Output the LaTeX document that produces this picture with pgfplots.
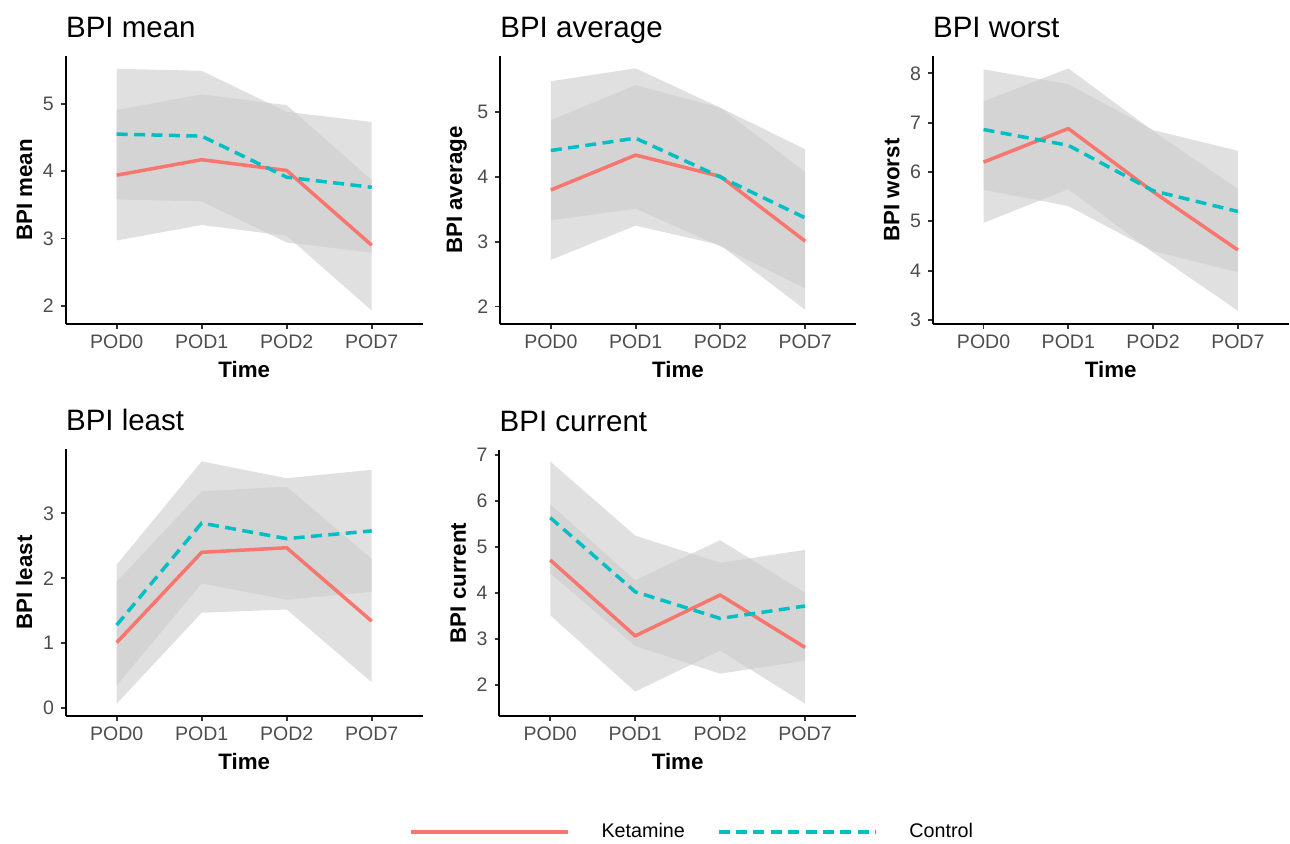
\documentclass[border=0pt]{standalone}
\usepackage{fontspec}
\setmainfont{Liberation Sans}
\usepackage{pgfplots}
\usepackage{pgfplotstable}
\pgfplotsset{compat=1.18}

\definecolor{keta}{HTML}{F8766D}
\definecolor{ctrl}{HTML}{00BFC4}
\definecolor{tickgray}{HTML}{4D4D4D}
\definecolor{band}{gray}{0.8}

% t = 1..4 stands for POD0, POD1, POD2, POD7
% kb/cb: band outline (upper 1..4, then lower 4..1); km/cm: group means
\pgfplotstableread{
t kb   cb   km   cm
1 4.91 5.52 3.94 4.55
2 5.14 5.49 4.17 4.52
3 4.98 4.88 4.01 3.91
4 3.87 4.73 2.90 3.76
4 1.93 2.79 nan  nan
3 3.04 2.94 nan  nan
2 3.20 3.55 nan  nan
1 2.97 3.58 nan  nan
}\bpimean
\pgfplotstableread{
t kb   cb   km   cm
1 4.88 5.48 3.80 4.41
2 5.42 5.68 4.34 4.60
3 5.07 5.07 4.01 4.00
4 4.08 4.43 3.01 3.37
4 1.95 2.28 nan  nan
3 2.95 2.93 nan  nan
2 3.25 3.51 nan  nan
1 2.72 3.33 nan  nan
}\bpiaverage
\pgfplotstableread{
t kb   cb   km   cm
1 7.43 8.08 6.20 6.86
2 8.10 7.78 6.88 6.54
3 6.83 6.85 5.60 5.62
4 5.66 6.43 4.42 5.20
4 3.19 3.97 nan  nan
3 4.37 4.40 nan  nan
2 5.65 5.31 nan  nan
1 4.97 5.64 nan  nan
}\bpiworst
\pgfplotstableread{
t kb   cb   km   cm
1 1.95 2.21 1.01 1.28
2 3.34 3.80 2.40 2.85
3 3.41 3.54 2.47 2.61
4 2.30 3.67 1.34 2.73
4 0.40 1.79 nan  nan
3 1.52 1.67 nan  nan
2 1.47 1.92 nan  nan
1 0.07 0.35 nan  nan
}\bpileast
\pgfplotstableread{
t kb   cb   km   cm
1 5.93 6.86 4.72 5.64
2 4.28 5.25 3.07 4.03
3 5.15 4.66 3.96 3.45
4 4.01 4.94 2.82 3.72
4 1.60 2.53 nan  nan
3 2.75 2.25 nan  nan
2 1.86 2.85 nan  nan
1 3.52 4.43 nan  nan
}\bpicurrent

\pgfplotsset{
  bpipanel/.style={
    scale only axis,
    axis lines=left,
    axis line style={-, line width=1bp, black},
    tick align=outside,
    major tick length=2.4bp,
    major tick style={line width=0.9bp, black!80},
    xmin=0.4, xmax=4.6,
    xtick={1,2,3,4},
    xticklabels={POD0,POD1,POD2,POD7},
    tick label style={font=\fontsize{9.8}{11}\selectfont, text=tickgray},
    /pgf/number format/assume math mode=true,
    xticklabel style={anchor=base, yshift=-10bp},
    xlabel={Time},
    xlabel style={at={(axis description cs:0.5,-0.2)}, anchor=base, inner sep=0pt},
    ylabel style={at={(axis description cs:-0.092,0.5)}, anchor=south, inner sep=0pt},
    label style={font=\fontsize{11.2}{13}\selectfont\bfseries},
    title style={at={(axis description cs:0,1)}, anchor=base west, inner sep=0pt,
      yshift=3.3bp, font=\fontsize{14.8}{17}\selectfont},
  },
  ribbon/.style={fill=band, fill opacity=0.6, draw=none, forget plot},
  kline/.style={keta, line width=1.75bp, line join=round, no markers},
  cline/.style={ctrl, line width=1.75bp, dash pattern=on 5.5bp off 3.2bp, no markers},
}

\newcommand{\bpiseries}[1]{%
  \addplot[ribbon] table[x=t, y=kb] {#1} -- cycle;
  \addplot[ribbon] table[x=t, y=cb] {#1} -- cycle;
  \addplot[kline] table[x=t, y=km] {#1};
  \addplot[cline] table[x=t, y=cm] {#1};
}

\begin{document}
\begin{tikzpicture}
\path[use as bounding box] (0,0) rectangle (645bp,-422bp);

\begin{axis}[bpipanel, at={(32.85bp,-162bp)}, anchor=south west,
  width=178.5bp, height=134bp, ymin=1.73, ymax=5.71, ytick={2,3,4,5},
  title={BPI mean}, ylabel={BPI mean}]
\bpiseries{\bpimean}
\end{axis}

\begin{axis}[bpipanel, at={(250bp,-162bp)}, anchor=south west,
  width=178bp, height=134bp, ymin=1.73, ymax=5.87, ytick={2,3,4,5},
  title={BPI average}, ylabel={BPI average}]
\bpiseries{\bpiaverage}
\end{axis}

\begin{axis}[bpipanel, at={(466.35bp,-162bp)}, anchor=south west,
  width=178bp, height=134bp, ymin=2.92, ymax=8.35, ytick={3,4,5,6,7,8},
  title={BPI worst}, ylabel={BPI worst}]
\bpiseries{\bpiworst}
\end{axis}

\begin{axis}[bpipanel, at={(32.85bp,-358bp)}, anchor=south west,
  width=178.5bp, height=133.5bp, ymin=-0.12, ymax=3.99, ytick={0,1,2,3},
  title={BPI least}, ylabel={BPI least}]
\bpiseries{\bpileast}
\end{axis}

\begin{axis}[bpipanel, at={(249.65bp,-358bp)}, anchor=south west,
  width=178.35bp, height=133bp, ymin=1.33, ymax=7.11, ytick={2,3,4,5,6,7},
  title={BPI current}, ylabel={BPI current},
  legend columns=-1,
  legend image code/.code={\draw[#1] (0bp,0bp) -- (78.5bp,0bp);},
  legend style={draw=none, fill=none, inner sep=0pt,
    at={(axis description cs:-0.254,-0.436)}, anchor=west,
    font=\fontsize{9.9}{11}\selectfont,
    /tikz/every odd column/.append style={column sep=14bp},
    /tikz/every even column/.append style={column sep=14bp}}]
\bpiseries{\bpicurrent}
\addlegendentry{Ketamine}
\addlegendentry{Control}
\end{axis}
\end{tikzpicture}
\end{document}
